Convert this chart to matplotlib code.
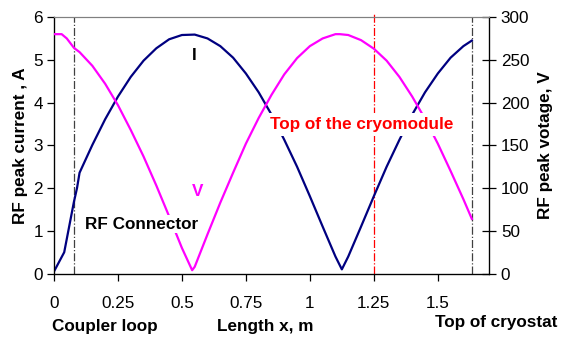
import matplotlib.pyplot as plt

plt.rcParams['font.family'] = ['Liberation Sans', 'DejaVu Sans']

# ток I, A
x_i = [0, 0.04, 0.078, 0.09, 0.10, 0.15, 0.20, 0.25, 0.30, 0.35, 0.40, 0.45, 0.50,
       0.55, 0.60, 0.65, 0.70, 0.75, 0.80, 0.85, 0.90, 0.95, 1.00, 1.05, 1.10,
       1.125, 1.15, 1.20, 1.25, 1.30, 1.35, 1.40, 1.45, 1.50, 1.55, 1.60, 1.633]
cur = [0.05, 0.5, 1.68, 2.0, 2.36, 3.01, 3.61, 4.14, 4.60, 4.98, 5.27, 5.48, 5.58,
       5.59, 5.50, 5.32, 5.05, 4.68, 4.24, 3.72, 3.13, 2.50, 1.81, 1.10, 0.40,
       0.10, 0.40, 1.10, 1.81, 2.50, 3.13, 3.72, 4.24, 4.68, 5.05, 5.32, 5.45]

# напряжение V
x_v = [0, 0.03, 0.05, 0.078, 0.10, 0.15, 0.20, 0.25, 0.30, 0.35, 0.40, 0.45, 0.50,
       0.54, 0.55, 0.60, 0.65, 0.70, 0.75, 0.80, 0.85, 0.90, 0.95, 1.00, 1.05,
       1.10, 1.117, 1.15, 1.20, 1.25, 1.30, 1.35, 1.40, 1.45, 1.50, 1.55, 1.60, 1.633]
volt = [280, 280, 275, 264, 259, 243, 222, 197, 168, 137, 103, 67, 30,
        4, 8, 46, 83, 118, 152, 182, 209, 233, 252, 266, 275,
        280, 280, 279, 273, 263, 249, 230, 207, 181, 152, 120, 87, 64]

xticks = [0, 0.25, 0.5, 0.75, 1, 1.25, 1.5]
xlabels = ['0', '0.25', '0.5', '0.75', '1', '1.25', '1.5']

fs = 12.3

fig = plt.figure(figsize=(5.64, 3.37), dpi=100)
ax = fig.add_axes([0.0957, 0.188, 0.7713, 0.7614])
ax2 = ax.twinx()

ax.plot(x_i, cur, color='#000080', lw=1.6, zorder=3)
ax2.plot(x_v, volt, color='#ff00ff', lw=1.6, zorder=3)

ax.axvline(0.078, color='#404040', lw=0.9, ls='-.', zorder=2)
ax.axvline(1.633, color='#404040', lw=0.9, ls='-.', zorder=2)
ax.axvline(1.25, color='red', lw=0.9, ls='-.', zorder=2, ymax=1.015, clip_on=False)

ax.set_xlim(0, 1.70)
ax.set_ylim(0, 6)
ax2.set_ylim(0, 300)
ax.set_xticks(xticks)
ax.set_xticklabels(xlabels)
ax.set_yticks(range(7))
ax2.set_yticks(range(0, 301, 50))

for a in (ax, ax2):
    a.tick_params(labelsize=fs, length=5, width=0.9)
ax2.tick_params(direction='inout', length=10)
ax.tick_params(axis='x', pad=11)
ax.tick_params(axis='y', pad=3)

for s in ('left', 'bottom'):
    ax.spines[s].set_linewidth(0.9)
ax2.spines['right'].set_linewidth(0.9)
for a in (ax, ax2):
    a.spines['top'].set_color('#808080')

ax.set_ylabel('RF peak current , A', fontsize=fs, fontweight='bold', labelpad=4)
ax2.set_ylabel('RF peak votage, V', fontsize=fs, fontweight='bold', labelpad=6)

bb = dict(facecolor='white', edgecolor='none', pad=1)
ax2.text(0.55, 255, 'I', fontsize=fs, fontweight='bold', ha='center', va='center', zorder=5)
ax2.text(0.563, 96, 'V', fontsize=fs, fontweight='bold', color='#ff00ff',
         ha='center', va='center', zorder=5)
ax2.text(0.121, 58, 'RF Connector', fontsize=fs, fontweight='bold', ha='left', va='center',
         bbox=bb, zorder=5)
ax2.text(0.844, 174, 'Top of the cryomodule', fontsize=fs, fontweight='bold', color='red',
         ha='left', va='center', bbox=dict(facecolor='white', edgecolor='none', pad=3), zorder=5)

fig.text(105 / 564, 1 - 327 / 337, 'Coupler loop', fontsize=fs, fontweight='bold',
         ha='center', va='center')
fig.text(265 / 564, 1 - 326 / 337, 'Length x, m', fontsize=fs, fontweight='bold',
         ha='center', va='center')
fig.text(435 / 564, 1 - 323 / 337, 'Top of cryostat', fontsize=fs, fontweight='bold',
         ha='left', va='center')

fig.savefig('out.png', dpi=100)
